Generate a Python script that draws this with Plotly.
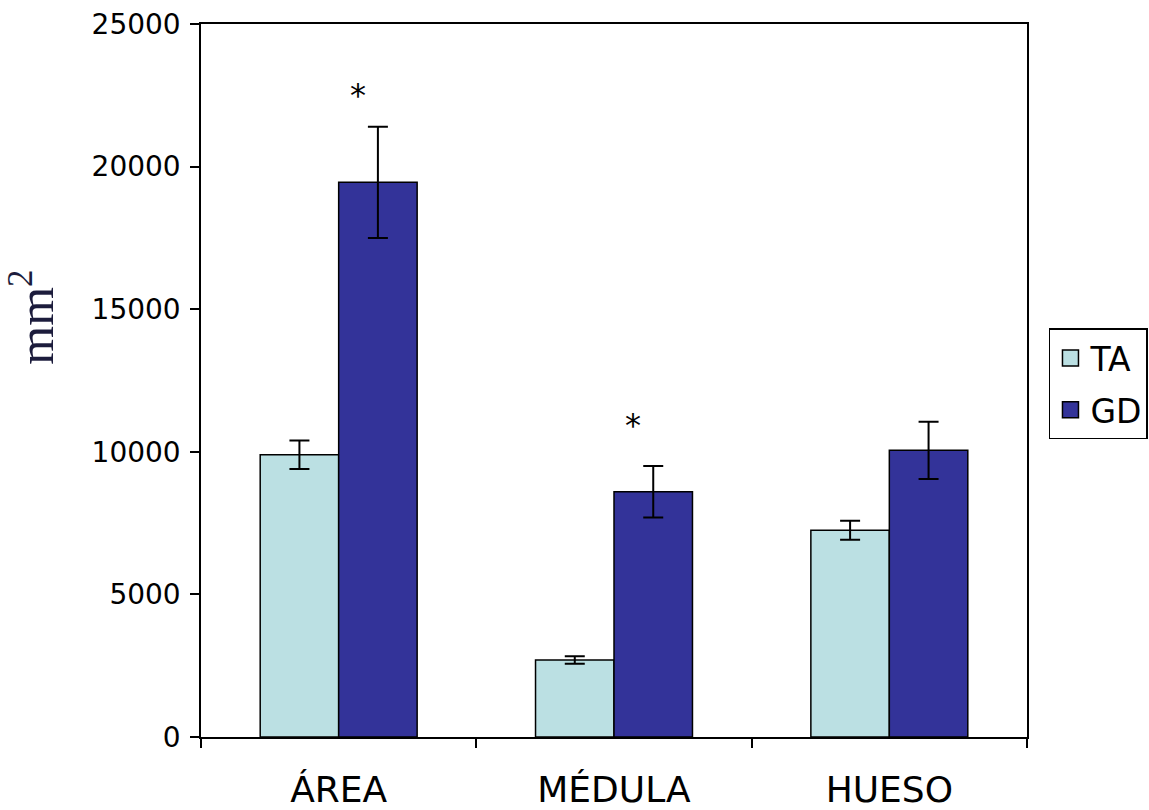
import plotly.graph_objects as go

categories = ["ÁREA", "MÉDULA", "HUESO"]
ta_values = [9900, 2700, 7250]
ta_errors = [500, 130, 330]
gd_values = [19450, 8600, 10050]
gd_errors = [1950, 900, 1000]
star_categories = ["ÁREA", "MÉDULA"]
star_y = [22500, 10950]
series_names = ["TA", "GD"]
series_colors = ["#BBE0E3", "#333399"]

fig = go.Figure()
for name, vals, errs, col in zip(series_names, [ta_values, gd_values],
                                 [ta_errors, gd_errors], series_colors):
    fig.add_trace(go.Bar(
        name=name, x=categories, y=vals, showlegend=False,
        marker=dict(color=col, line=dict(color="black", width=1.5)),
        error_y=dict(type="data", array=errs, color="black", thickness=2, width=10),
    ))
# legend entries with larger square swatches
for name, col in zip(series_names, series_colors):
    fig.add_trace(go.Scatter(
        name=name, x=[None], y=[None], mode="markers", legendgroup=name,
        marker=dict(symbol="square", size=21, color=col,
                    line=dict(color="black", width=1.5)),
    ))

for c, y in zip(star_categories, star_y):
    fig.add_annotation(x=c, y=y, text="*", showarrow=False, xshift=19,
                       font=dict(family="DejaVu Sans", size=32, color="black"))

fig.add_annotation(x=-0.205, y=0.589, xref="paper", yref="paper",
                   xanchor="center", yanchor="middle",
                   text="mm<sup>2</sup>", textangle=-90, showarrow=False,
                   font=dict(family="Liberation Serif", size=50, color="#1c1c3c"))

fig.update_layout(
    width=1149, height=810,
    margin=dict(l=201, r=122, t=24, b=73, autoexpand=False),
    paper_bgcolor="white", plot_bgcolor="white",
    barmode="group", bargap=0.43, bargroupgap=0,
    font=dict(family="DejaVu Sans", size=27, color="black"),
    legend=dict(x=1.0266, y=0.573, xanchor="left", yanchor="top",
                bordercolor="black", borderwidth=1.5, bgcolor="white",
                font=dict(size=33), itemsizing="trace",
                tracegroupgap=6, itemwidth=30),
    showlegend=True,
)
fig.update_xaxes(
    showline=True, linecolor="black", linewidth=1.5, mirror=True,
    ticks="outside", ticklen=9, tickcolor="black", tickwidth=1.5,
    tickson="boundaries", tickfont=dict(size=36), showgrid=False,
    ticklabelstandoff=20,
)
fig.update_yaxes(
    range=[0, 25000], dtick=5000, showline=True, linecolor="black",
    linewidth=1.5, mirror=True, ticks="outside", ticklen=9,
    tickcolor="black", tickwidth=1.5, showgrid=False, zeroline=False,
    tickformat="d", tickfont=dict(family="DejaVu Sans", size=28),
    ticklabelstandoff=4,
)

fig.write_html("out.html")
